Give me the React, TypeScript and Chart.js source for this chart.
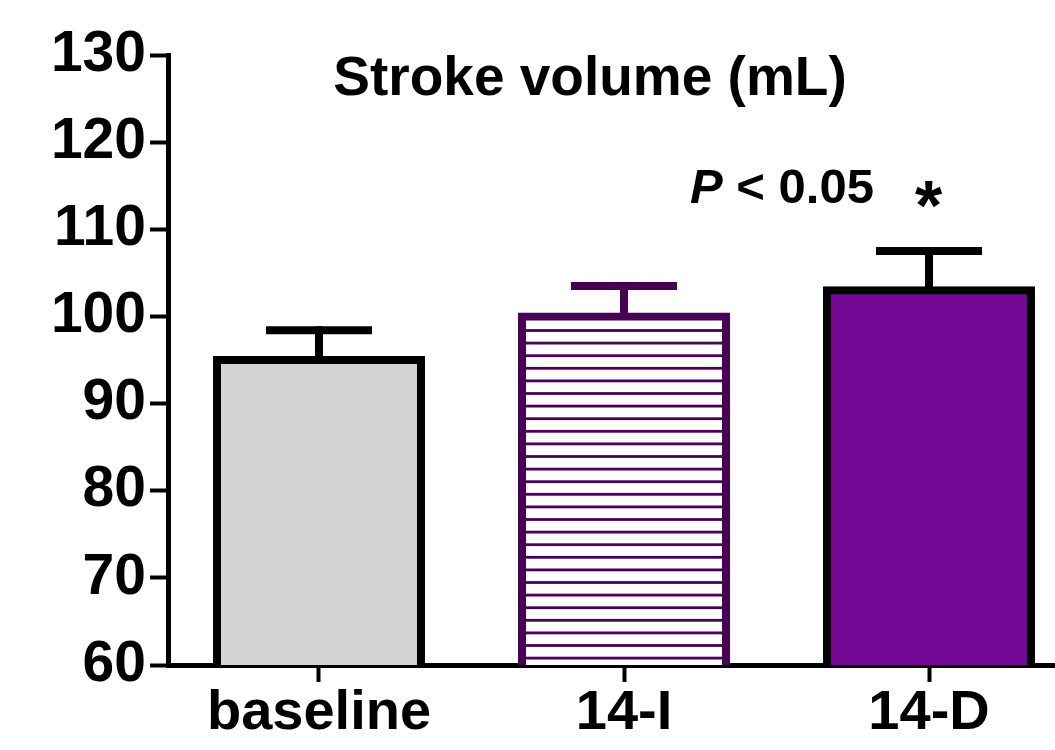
import React, { useEffect, useRef } from 'react';
import { Chart, registerables } from 'chart.js';

Chart.register(...registerables);

// ---- data ----
const categories = ['baseline', '14-I', '14-D'];
const means = [95, 100, 103];
const errorTops = [98.4, 103.5, 107.5];
const yTicks = [60, 70, 80, 90, 100, 110, 120, 130];
const chartTitle = 'Stroke volume (mL)';
const pLetter = 'P';
const pRest = ' < 0.05';
const sigMark = '*';
const sigValue = 114;

// ---- styles ----
const FONT = "'Liberation Sans', Arial, Helvetica, sans-serif";
const borderColors = ['#000000', '#470054', '#000000'];
const plainFills = ['#d3d3d3', null, '#740894'];
const hatchColor = '#470054';

function makeHatch(ctx: CanvasRenderingContext2D): CanvasPattern | string {
  const c = document.createElement('canvas');
  c.width = 8;
  c.height = 63;
  const p = c.getContext('2d');
  if (!p) return '#ffffff';
  p.fillStyle = '#ffffff';
  p.fillRect(0, 0, 8, 63);
  p.fillStyle = hatchColor;
  const start = 15.5;
  for (let k = 0; k < 5; k++) {
    const cy = (start + 12.6 * k) % 63;
    p.fillRect(0, cy - 1.4, 8, 2.8);
  }
  return ctx.createPattern(c, 'repeat') || '#ffffff';
}

const errorBarPlugin = {
  id: 'errorBars',
  afterDatasetsDraw(chart: any) {
    const ctx = chart.ctx as CanvasRenderingContext2D;
    const meta = chart.getDatasetMeta(0);
    const ys = chart.scales.y;
    meta.data.forEach((bar: any, i: number) => {
      const x = bar.x;
      const yTop = ys.getPixelForValue(means[i]);
      const yErr = ys.getPixelForValue(errorTops[i]);
      ctx.save();
      ctx.strokeStyle = borderColors[i];
      ctx.lineCap = 'butt';
      ctx.lineWidth = 8;
      ctx.beginPath();
      ctx.moveTo(x, yTop);
      ctx.lineTo(x, yErr - 4);
      ctx.stroke();
      ctx.lineWidth = 8;
      ctx.beginPath();
      ctx.moveTo(x - 53, yErr);
      ctx.lineTo(x + 53, yErr);
      ctx.stroke();
      ctx.restore();
    });
  },
};

const textPlugin = {
  id: 'texts',
  afterDraw(chart: any) {
    const ctx = chart.ctx as CanvasRenderingContext2D;
    const ys = chart.scales.y;
    const meta = chart.getDatasetMeta(0);
    ctx.save();
    ctx.fillStyle = '#000000';
    // title
    ctx.font = `bold 55px ${FONT}`;
    ctx.textAlign = 'center';
    ctx.textBaseline = 'alphabetic';
    ctx.fillText(chartTitle, 590, 95);
    // P < 0.05
    ctx.textAlign = 'left';
    ctx.font = `italic bold 49px ${FONT}`;
    const px = 690;
    ctx.fillText(pLetter, px, 203);
    const w = ctx.measureText(pLetter).width;
    ctx.font = `bold 49px ${FONT}`;
    ctx.fillText(pRest, px + w, 203);
    // asterisk
    ctx.font = `bold 70px ${FONT}`;
    const m = ctx.measureText(sigMark);
    const sx = meta.data[2].x;
    const sy = ys.getPixelForValue(sigValue);
    const inkW = m.actualBoundingBoxLeft + m.actualBoundingBoxRight;
    const inkH = m.actualBoundingBoxAscent + m.actualBoundingBoxDescent;
    ctx.fillText(
      sigMark,
      sx - inkW / 2 + m.actualBoundingBoxLeft,
      sy + inkH / 2 - m.actualBoundingBoxDescent
    );
    ctx.restore();
  },
};

export default function App() {
  const ref = useRef<HTMLCanvasElement | null>(null);

  useEffect(() => {
    const canvas = ref.current;
    if (!canvas) return;
    const ctx = canvas.getContext('2d');
    if (!ctx) return;
    const hatch = makeHatch(ctx);
    const fills = plainFills.map((f) => (f === null ? hatch : f));

    const chart = new Chart(canvas, {
      type: 'bar',
      data: {
        datasets: [
          {
            data: means.map((v, i) => ({ x: i, y: v })),
            backgroundColor: fills as any,
            borderColor: borderColors,
            borderWidth: 8,
            borderSkipped: 'start',
            inflateAmount: 4,
            barThickness: 204,
          } as any,
        ],
      },
      options: {
        responsive: false,
        animation: false,
        devicePixelRatio: 1,
        layout: { padding: { top: 55, right: 0, bottom: 0, left: 0 } },
        plugins: {
          legend: { display: false },
          tooltip: { enabled: false },
          title: { display: false },
        },
        scales: {
          x: {
            type: 'linear',
            offset: false,
            min: -0.495,
            max: 2.413,
            afterBuildTicks: (scale: any) => {
              scale.ticks = categories.map((_, i) => ({ value: i }));
            },
            afterFit: (scale: any) => {
              scale.height = 85;
            },
            ticks: {
              callback: (v: any) => categories[Number(v)] ?? '',
              color: '#000000',
              font: { family: FONT, size: 56, weight: 'bold' },
              padding: -2,
              maxRotation: 0,
              autoSkip: false,
            },
            grid: {
              offset: false,
              drawOnChartArea: false,
              drawTicks: true,
              tickLength: 17,
              tickWidth: 4,
              tickColor: '#000000',
            },
            border: { display: true, color: '#000000', width: 5 },
          },
          y: {
            type: 'linear',
            min: 60,
            max: 130,
            afterBuildTicks: (scale: any) => {
              scale.ticks = yTicks.map((v) => ({ value: v }));
            },
            afterFit: (scale: any) => {
              scale.width = 168;
            },
            ticks: {
              callback: (v: any) => String(v),
              color: '#000000',
              font: { family: FONT, size: 57, weight: 'bold' },
              padding: 4,
            },
            grid: {
              drawOnChartArea: false,
              drawTicks: true,
              tickLength: 18,
              tickWidth: 4,
              tickColor: '#000000',
            },
            border: { display: true, color: '#000000', width: 5 },
          },
        },
      } as any,
      plugins: [errorBarPlugin, textPlugin],
    });

    return () => {
      chart.destroy();
    };
  }, []);

  return (
    <div style={{ position: 'fixed', left: 0, top: 0, width: 1055, height: 750, background: '#ffffff' }}>
      <canvas ref={ref} width={1055} height={750} style={{ display: 'block', width: 1055, height: 750 }} />
    </div>
  );
}
